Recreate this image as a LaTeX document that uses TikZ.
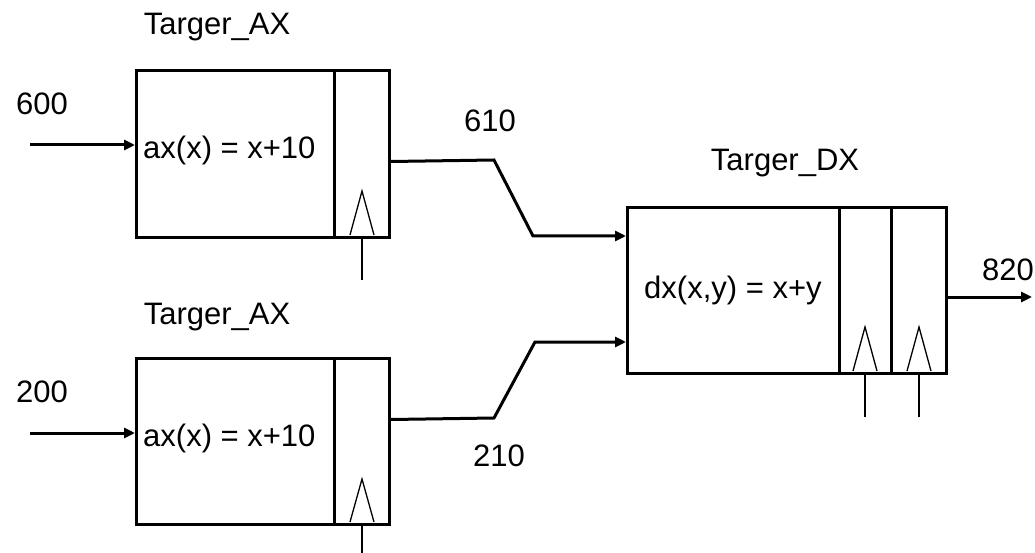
\documentclass[tikz,border=0pt]{standalone}
\usepackage{fontspec}
\setmainfont{Liberation Sans}
\usetikzlibrary{arrows.meta}
\begin{document}
\begin{tikzpicture}[x=1pt,y=1pt,
  every node/.style={font=\fontsize{31}{36}\selectfont, inner sep=0pt},
  blk/.style={draw, line width=3pt, anchor=north west},
  thick line/.style={line width=3pt},
  thin line/.style={line width=1.3pt},
  sig/.style={line width=3pt, -{Triangle[length=11pt,width=10pt]}},
  lbl/.style={anchor=center}]
\useasboundingbox (0,0) rectangle (1035,-553);
% blocks
\node[blk, minimum width=253pt, minimum height=167pt] (a1) at (135,-69) {};
\node[blk, minimum width=253pt, minimum height=166pt] (a2) at (135,-357) {};
\node[blk, minimum width=319pt, minimum height=166pt] (dx) at (626,-206) {};
% dividers
\draw[thick line] (334,-69) -- (334,-236);
\draw[thick line] (334,-357) -- (334,-523);
\draw[thick line] (839,-206) -- (839,-372);
\draw[thick line] (891,-206) -- (891,-372);
% clock symbols
\draw[thin line] (350,-235) -- (362,-191) -- (374,-235);
\draw[thin line] (350,-522) -- (362,-479) -- (374,-522);
\draw[thin line] (853,-371) -- (865,-327) -- (877,-371);
\draw[thin line] (907,-371) -- (919,-327) -- (931,-371);
% clock lines
\coordinate (c1) at (362,-280);
\coordinate (c2) at (362,-553);
\coordinate (c3) at (865,-417);
\coordinate (c4) at (919,-417);
\draw[thin line] (362,-236) -- (c1);
\draw[thin line] (362,-523) -- (c2);
\draw[thin line] (865,-372) -- (c3);
\draw[thin line] (919,-372) -- (c4);
% texts
\node[anchor=west] (f1) at (143,-150) {ax(x) = x+10};
\node[anchor=west] (f2) at (143,-438) {ax(x) = x+10};
\node[anchor=west] (f3) at (644,-290) {dx(x,y) = x+y};
\node[lbl] (t1) at (217,-27) {Targer\_AX};
\node[lbl] (t2) at (217,-317) {Targer\_AX};
\node[lbl] (t3) at (785,-163) {Targer\_DX};
\node[lbl] (l600) at (42,-104) {600};
\node[lbl] (l200) at (42,-392) {200};
\node[lbl] (l610) at (490,-121) {610};
\node[lbl] (l210) at (499,-456) {210};
\node[lbl] (l820) at (1008,-270) {820};
% inputs
\coordinate (in1) at (30,-145);
\coordinate (in2) at (30,-433);
\draw[sig] (in1) -- (in1 -| a1.west);
\draw[sig] (in2) -- (in2 -| a2.west);
% connections
\draw[sig] ([yshift=-7.5pt]a1.east) -- (494,-160) -- (533,-236) -- (dx.west |- 0,-236);
\draw[sig] ([yshift=22pt]a2.east) -- (494,-418) -- (535,-342) -- (dx.west |- 0,-342);
% output
\coordinate (out) at (1032,-297);
\draw[sig] (dx.east |- out) -- (out);
\end{tikzpicture}
\end{document}
